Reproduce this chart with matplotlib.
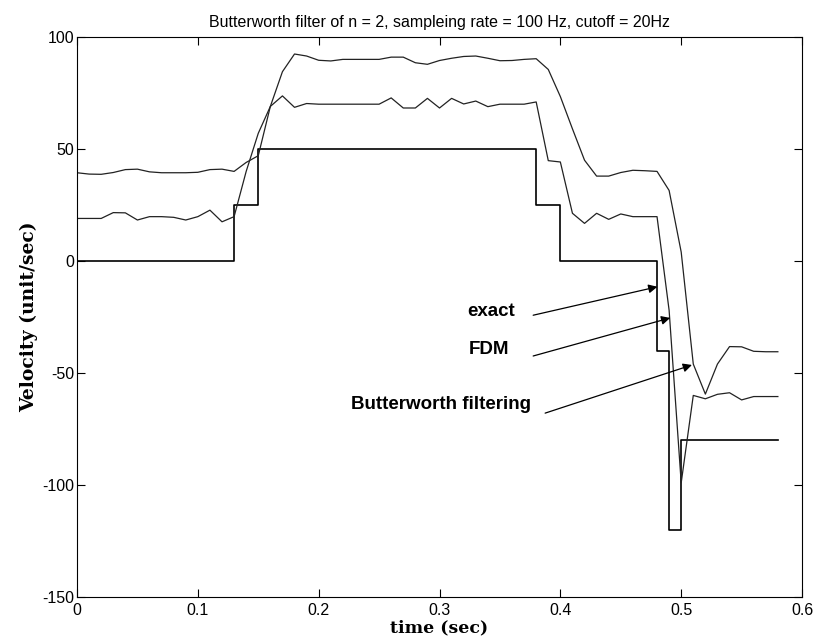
import numpy as np
import matplotlib
matplotlib.use("Agg")
import matplotlib.pyplot as plt

plt.rcParams['font.family'] = ['Liberation Sans', 'DejaVu Sans']
plt.rcParams['axes.unicode_minus'] = False

# sample times, 100 Hz
t = np.arange(59) * 0.01

# exact velocity (step profile)
exact = [0] * 13 + [25] * 2 + [50] * 23 + [25] * 2 + [0] * 8 + [-40, -120] + [-80] * 9

# finite difference result (shifted +20 in the original figure)
fdm = [19, 19, 19, 21.6, 21.5, 18.3, 19.8, 19.8, 19.5, 18.3,
       19.8, 22.7, 17.5, 19.8, 40, 57, 69, 73.7, 68.6, 70.3,
       70, 70, 70, 70, 70, 70, 72.8, 68.3, 68.3, 72.6,
       68.3, 72.6, 70.1, 71.4, 68.9, 70, 70, 70, 71, 44.8,
       44.2, 21.3, 16.8, 21.3, 18.6, 21, 19.8, 19.8, 19.8, -22,
       -99, -60, -61.5, -59.5, -58.8, -62, -60.5, -60.5, -60.5]

# butterworth filtered result (shifted +40)
butter = [39.4, 38.8, 38.7, 39.5, 40.8, 41, 39.8, 39.4, 39.4, 39.4,
          39.6, 40.8, 41, 40, 44, 47, 69, 84.5, 92.4, 91.5,
          89.6, 89.3, 90, 90, 90, 90, 91, 91, 88.5, 87.8,
          89.5, 90.5, 91.3, 91.5, 90.5, 89.4, 89.5, 90, 90.3, 85.5,
          73.4, 59, 45, 37.9, 37.9, 39.5, 40.5, 40.3, 40, 31.5,
          4, -46, -59.4, -46, -38.2, -38.3, -40.3, -40.5, -40.5]

labels = ['exact', 'FDM', 'Butterworth filtering']
label_xy = [(0.343, -22.6), (0.341, -39.7), (0.301, -64.0)]
arrow_from = [(0.3775, -24.2), (0.3775, -42.4), (0.3874, -67.9)]
arrow_to = [(0.4803, -11.5), (0.4909, -25.4), (0.5089, -46.4)]

fig = plt.figure(figsize=(8.14, 6.42), dpi=100)
ax = fig.add_axes([0.0946, 0.070, 0.8907, 0.8724])

ax.plot(t, exact, 'k', lw=1.2, drawstyle='steps-post')
ax.plot(t, fdm, color='#222222', lw=0.9)
ax.plot(t, butter, color='#222222', lw=0.9)

for lab, (x, y) in zip(labels, label_xy):
    ax.text(x, y, lab, ha='center', va='center', fontsize=13.5, fontweight='bold')
for a, b in zip(arrow_from, arrow_to):
    ax.annotate('', xy=b, xytext=a,
                arrowprops=dict(arrowstyle='-|>', color='k', lw=0.9,
                                mutation_scale=13, shrinkA=0, shrinkB=0))

ax.set_xlim(0, 0.6)
ax.set_ylim(-150, 100)
ax.set_xticks(np.arange(0, 0.61, 0.1))
ax.set_xticklabels(['0', '0.1', '0.2', '0.3', '0.4', '0.5', '0.6'])
ax.set_yticks([-150, -100, -50, 0, 50, 100])
ax.tick_params(direction='in', top=True, right=True, length=6, labelsize=11.5, pad=2)
ax.tick_params(axis='x', pad=4)

ax.set_title('Butterworth filter of n = 2, sampleing rate = 100 Hz, cutoff = 20Hz',
             fontsize=11.5, pad=7)
ax.set_xlabel('time (sec)', family='DejaVu Serif', fontweight='bold', fontsize=12.5, labelpad=1)
ax.set_ylabel('Velocity (unit/sec)', family='DejaVu Serif', fontweight='bold', fontsize=13.5, labelpad=3)

fig.savefig('out.png', dpi=100)
